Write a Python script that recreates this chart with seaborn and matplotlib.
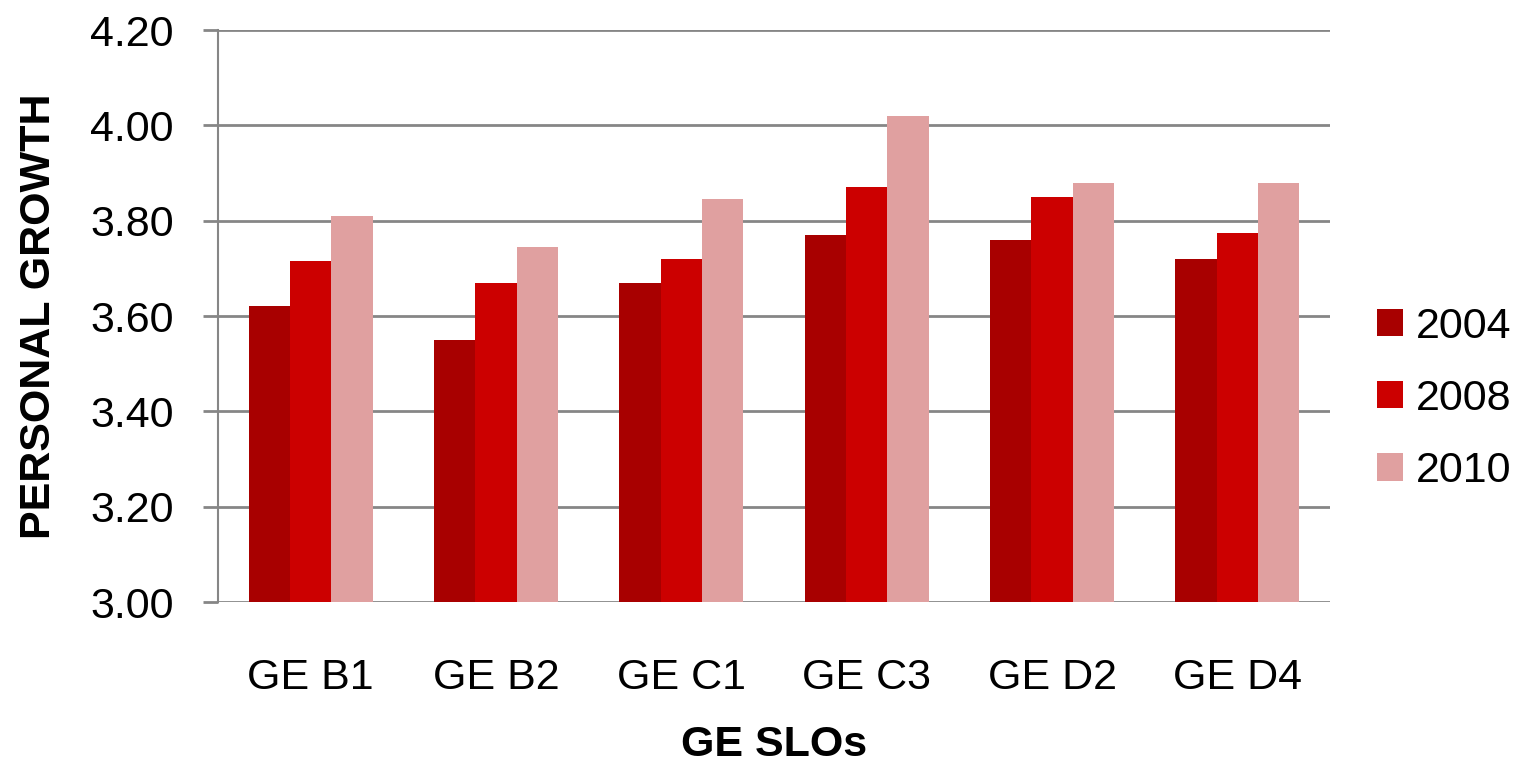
import matplotlib
matplotlib.use("Agg")
import matplotlib.pyplot as plt
from matplotlib import font_manager
import seaborn as sns
import pandas as pd

slos = ["GE B1", "GE B2", "GE C1", "GE C3", "GE D2", "GE D4"]
years = ["2004", "2008", "2010"]
vals_2004 = [3.62, 3.55, 3.67, 3.77, 3.76, 3.72]
vals_2008 = [3.715, 3.67, 3.72, 3.87, 3.85, 3.775]
vals_2010 = [3.81, 3.745, 3.845, 4.02, 3.88, 3.88]
year_colors = ["#A80000", "#CC0000", "#E0A0A0"]
y_ticks = [3.0, 3.2, 3.4, 3.6, 3.8, 4.0, 4.2]

df = pd.DataFrame({
    "slo": slos * 3,
    "year": [y for y in years for _ in slos],
    "score": vals_2004 + vals_2008 + vals_2010,
})

sns.set_style("whitegrid")
installed = {f.name for f in font_manager.fontManager.ttflist}
families = [f for f in ["Liberation Sans Narrow", "Liberation Sans", "DejaVu Sans"] if f in installed]
plt.rcParams['font.family'] = families
plt.rcParams['text.color'] = 'black'
plt.rcParams['axes.labelcolor'] = 'black'
plt.rcParams['xtick.labelcolor'] = 'black'
plt.rcParams['ytick.labelcolor'] = 'black'

W, H = 1522, 770
fig = plt.figure(figsize=(W / 100, H / 100), dpi=100)
ax = fig.add_axes([218 / W, 1 - 602 / H, (1330 - 218) / W, (602 - 30) / H])

sns.barplot(
    data=df, x="slo", y="score", hue="year",
    palette=dict(zip(years, year_colors)), saturation=1,
    width=0.67, gap=0, errorbar=None, linewidth=0, edgecolor="none", ax=ax,
)

ax.set_ylim(3.0, 4.2)
ax.set_yticks(y_ticks)
ax.set_yticklabels([f"{t:.2f}" for t in y_ticks])

grey = "#868686"
ax.grid(axis="y", color=grey, linewidth=2)
ax.grid(axis="x", visible=False)
ax.set_axisbelow(True)
for side in ["top", "right", "bottom"]:
    ax.spines[side].set_visible(False)
ax.spines["left"].set_color(grey)
ax.spines["left"].set_linewidth(1.5)

ax.tick_params(axis="y", left=True, length=11, width=2, color=grey, pad=21, labelsize=31)
ax.tick_params(axis="x", length=0, pad=40, labelsize=31)
ax.set_xlabel("GE SLOs", fontsize=31, fontweight="bold", labelpad=20)
ax.set_ylabel("PERSONAL GROWTH", fontsize=31, fontweight="bold", labelpad=22)

handles, labels = ax.get_legend_handles_labels()
ax.legend_.remove()
fig.legend(
    handles, labels, loc="center left", bbox_to_anchor=(1377 / W, 1 - 399 / H),
    frameon=False, fontsize=31, handlelength=0.6, handleheight=0.6,
    handletextpad=0.3, labelspacing=0.75, borderpad=0, borderaxespad=0,
)

fig.savefig("out.png", dpi=100)
